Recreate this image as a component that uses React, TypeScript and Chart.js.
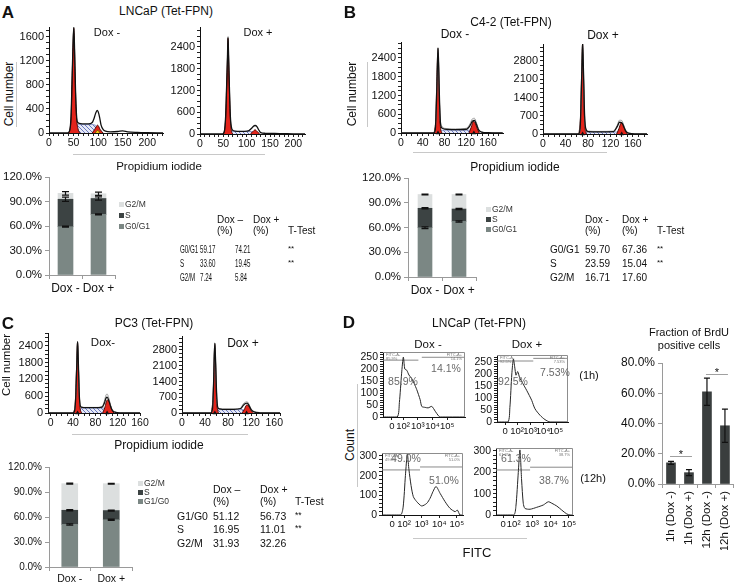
import React, { useEffect, useRef } from 'react';
import { Chart, registerables } from 'chart.js';

Chart.register(...registerables);
const FONT = '"Liberation Sans", Arial, Helvetica, sans-serif';
Chart.defaults.font.family = FONT;
Chart.defaults.color = '#111';

// ---------------- Panel A: LNCaP (Tet-FPN), PI histograms ----------------
const A_NEG_X = [0, 38, 42, 45, 47, 49, 50.5, 52, 54, 56, 58, 62, 70, 80, 88, 92, 95, 98, 100, 103, 106, 110, 115, 125, 140, 150, 160, 180, 200, 232];
const A_NEG_TOTAL = [0, 0, 40, 300, 900, 1500, 1760, 1400, 700, 300, 180, 160, 150, 150, 175, 250, 330, 375, 355, 260, 130, 60, 30, 20, 25, 35, 20, 10, 5, 0];
const A_NEG_G1_X = [38, 42, 45, 47, 49, 50.5, 52, 54, 56, 59, 63];
const A_NEG_G1_Y = [0, 40, 280, 880, 1480, 1740, 1380, 680, 260, 70, 0];
const A_NEG_S_X = [52, 56, 60, 88, 94, 100, 106, 110];
const A_NEG_S_Y = [0, 110, 140, 140, 130, 90, 30, 0];
const A_NEG_G2_X = [88, 93, 99, 104, 110];
const A_NEG_G2_Y = [0, 60, 130, 60, 0];
const A_NEG_AP_X = [94, 99, 104];
const A_NEG_AP_Y = [0, 45, 0];

const A_POS_X = [0, 48, 52, 55, 57, 59, 60, 61, 63, 65, 68, 72, 80, 95, 105, 110, 114, 118, 122, 126, 130, 140, 160, 180, 200, 225];
const A_POS_TOTAL = [0, 0, 60, 500, 1300, 2200, 2675, 2300, 1300, 500, 150, 90, 75, 75, 95, 150, 210, 235, 205, 110, 40, 20, 15, 10, 5, 0];
const A_POS_G1_X = [50, 53, 55, 57, 59, 60, 61, 63, 65, 67, 70];
const A_POS_G1_Y = [0, 150, 480, 1280, 2150, 2640, 2250, 1250, 450, 120, 0];
const A_POS_S_X = [62, 66, 72, 105, 112, 120, 124];
const A_POS_S_Y = [0, 60, 70, 70, 65, 20, 0];
const A_POS_G2_X = [108, 113, 118, 123, 128];
const A_POS_G2_Y = [0, 60, 115, 60, 0];

// ---------------- Panel B: C4-2 (Tet-FPN) ----------------
const B_NEG_X = [0, 60, 63, 65, 67, 68, 69, 71, 73, 76, 80, 100, 120, 127, 131, 135, 139, 143, 148, 160, 187];
const B_NEG_TOTAL = [0, 0, 100, 900, 2200, 2720, 2300, 900, 250, 150, 125, 110, 120, 240, 370, 400, 260, 90, 30, 10, 0];
const B_NEG_FIT = [0, 0, 100, 900, 2200, 2720, 2300, 900, 300, 200, 150, 130, 150, 300, 450, 470, 310, 110, 40, 10, 0];
const B_NEG_G1_X = [61, 64, 66, 68, 70, 72, 75];
const B_NEG_G1_Y = [0, 500, 1800, 2700, 1500, 300, 0];
const B_NEG_S_X = [70, 74, 80, 126, 132, 138];
const B_NEG_S_Y = [0, 80, 90, 90, 40, 0];
const B_NEG_G2_X = [125, 129, 133, 136, 140, 144];
const B_NEG_G2_Y = [0, 180, 370, 330, 150, 0];
const B_NEG_MARK_X = [68, 134];

const B_POS_X = [0, 63, 66, 68, 70, 70.5, 72, 74, 77, 80, 100, 125, 132, 136, 140, 144, 148, 154, 165, 185];
const B_POS_TOTAL = [0, 0, 200, 1500, 3200, 3490, 2400, 700, 150, 90, 80, 90, 280, 450, 440, 260, 90, 20, 5, 0];
const B_POS_FIT = [0, 0, 200, 1500, 3200, 3490, 2400, 700, 170, 110, 100, 110, 340, 530, 520, 310, 110, 30, 5, 0];
const B_POS_G1_X = [64, 67, 69, 70.5, 72, 74, 77];
const B_POS_G1_Y = [0, 800, 2600, 3450, 2200, 500, 0];
const B_POS_S_X = [72, 76, 80, 130, 138, 142];
const B_POS_S_Y = [0, 70, 80, 80, 30, 0];
const B_POS_G2_X = [131, 135, 139, 142, 146, 150];
const B_POS_G2_Y = [0, 200, 420, 400, 150, 0];
const B_POS_MARK_X = [70.5, 140];

// ---------------- Panel C: PC3 (Tet-FPN) ----------------
const C_NEG_X = [-5, 40, 43, 45, 47, 48, 49, 51, 53, 56, 60, 80, 92, 96, 99, 101, 104, 107, 110, 115, 125, 160];
const C_NEG_TOTAL = [0, 0, 100, 700, 2000, 2555, 2100, 700, 250, 200, 190, 190, 210, 350, 530, 570, 450, 250, 100, 30, 5, 0];
const C_NEG_FIT = [0, 0, 100, 700, 2000, 2555, 2100, 700, 260, 210, 200, 200, 230, 420, 640, 680, 540, 300, 120, 40, 5, 0];
const C_NEG_G1_X = [41, 44, 46, 48, 50, 52, 55];
const C_NEG_G1_Y = [0, 400, 1500, 2520, 1400, 300, 0];
const C_NEG_S_X = [50, 54, 58, 94, 100, 106, 110];
const C_NEG_S_Y = [0, 150, 180, 180, 150, 60, 0];
const C_NEG_G2_X = [93, 97, 101, 105, 109, 113];
const C_NEG_G2_Y = [0, 200, 460, 400, 150, 0];
const C_NEG_MARK_X = [48, 101];

const C_POS_X = [0, 50, 53, 55, 56, 57, 58, 60, 62, 65, 70, 90, 102, 106, 110, 113, 116, 120, 125, 135, 170];
const C_POS_TOTAL = [0, 0, 200, 1500, 2600, 3100, 2500, 900, 250, 180, 165, 165, 200, 330, 420, 440, 340, 150, 50, 10, 0];
const C_POS_FIT = [0, 0, 200, 1500, 2600, 3100, 2500, 900, 260, 190, 175, 175, 220, 400, 480, 500, 400, 180, 60, 10, 0];
const C_POS_G1_X = [51, 54, 56, 57, 58, 60, 63];
const C_POS_G1_Y = [0, 800, 2500, 3050, 2400, 600, 0];
const C_POS_S_X = [59, 62, 66, 104, 110, 117, 121];
const C_POS_S_Y = [0, 120, 150, 150, 120, 40, 0];
const C_POS_G2_X = [104, 108, 112, 116, 120, 124];
const C_POS_G2_Y = [0, 150, 350, 300, 100, 0];
const C_POS_MARK_X = [57, 112];

// ---------------- Stacked cell-cycle fractions (%) ----------------
const STACK_CATS = ['Dox -', 'Dox +'];
const A_G0G1 = [59.17, 74.21];
const A_S = [33.6, 19.45];
const A_G2M = [7.24, 5.84];
const A_G0G1_ERR = [0.6, 0.6];
const A_S_ERR = [2.5, 2.0];
const A_G2M_ERR = [2.2, 2.0];
const A_TTEST = ['**', '**', ''];

const B_G0G1 = [59.7, 67.36];
const B_S = [23.59, 15.04];
const B_G2M = [16.71, 17.6];
const B_G0G1_ERR = [1.0, 0.8];
const B_S_ERR = [0.8, 0.8];
const B_G2M_ERR = [0.6, 0.6];
const B_TTEST = ['**', '**', ''];

const C_G1G0 = [51.12, 56.73];
const C_S = [16.95, 11.01];
const C_G2M = [31.93, 32.26];
const C_G1G0_ERR = [0.8, 0.8];
const C_S_ERR = [0.8, 0.6];
const C_G2M_ERR = [0.6, 0.5];
const C_TTEST = ['**', '**', ''];

// ---------------- Panel D: BrdU / FITC histograms ----------------
const D_TICK_LABELS = ['0', '10\u00B2', '10\u00B3', '10\u2074', '10\u2075'];
const D1_TICKS = [1.25, 2, 3, 4, 5];
const D1_T = [0.64, 1.6, 1.75, 1.9, 2.02, 2.12, 2.25, 2.4, 2.59, 2.75, 2.93, 3.16, 3.27, 3.5, 3.7, 3.95, 4.18, 4.4, 4.52, 6.2];
const D1_Y = [0, 0, 60, 180, 250, 200, 195, 175, 160, 140, 114, 72, 44, 40, 38, 44, 24, 5, 0, 0];
const D1_GATE_L = [0.64, 3.04]; const D1_GATE_L_Y = [237, 237];
const D1_GATE_R = [3.27, 6.2]; const D1_GATE_R_Y = [249, 249];

const D2_TICKS = [1.08, 2, 3, 4, 5];
const D2_T = [0.46, 1.3, 1.45, 1.6, 1.72, 1.82, 1.92, 2.05, 2.2, 2.45, 2.74, 2.95, 3.13, 3.38, 3.77, 4.15, 4.54, 5.92];
const D2_Y = [0, 0, 60, 200, 262, 230, 195, 210, 185, 160, 132, 110, 90, 55, 28, 10, 0, 0];
const D2_GATE_L = [0.46, 3.25]; const D2_GATE_L_Y = [254, 254];
const D2_GATE_R = [3.25, 5.92]; const D2_GATE_R_Y = [265, 265];

const D3_TICKS = [1.32, 2, 3, 4, 5];
const D3_T = [0.75, 1.8, 1.95, 2.08, 2.19, 2.28, 2.4, 2.53, 2.72, 3.0, 3.29, 3.48, 3.65, 3.82, 4.05, 4.33, 4.61, 4.9, 5.03, 5.18, 5.35];
const D3_Y = [0, 0, 40, 200, 310, 230, 150, 93, 68, 46, 59, 85, 120, 145, 110, 68, 34, 17, 25, 0, 0];
const D3_GATE_L = [0.75, 2.91]; const D3_GATE_L_Y = [229, 229];
const D3_GATE_R = [2.91, 5.35]; const D3_GATE_R_Y = [244, 244];

const D4_TICKS = [1.43, 2, 3, 4, 5];
const D4_T = [1.04, 2.0, 2.12, 2.25, 2.34, 2.43, 2.52, 2.61, 2.89, 3.25, 3.61, 3.88, 4.07, 4.34, 4.61, 4.88, 5.06, 5.22];
const D4_Y = [0, 0, 40, 200, 305, 164, 55, 31, 27, 36, 47, 62, 55, 42, 23, 5, 0, 0];
const D4_GATE_L = [1.04, 2.89]; const D4_GATE_L_Y = [211, 211];
const D4_GATE_R = [2.89, 5.22]; const D4_GATE_R_Y = [224, 224];

const D_PCT = ['85.9%', '14.1%', '92.5%', '7.53%', '49.0%', '51.0%', '61.3%', '38.7%'];

const BRDU_CATS = ['1h (Dox -)', '1h (Dox +)', '12h (Dox -)', '12h (Dox +)'];
const BRDU_VALUES = [14.0, 7.5, 61.0, 38.5];
const BRDU_ERRORS = [1.0, 2.0, 9.0, 11.0];
const BRDU_SIG = [[0, 1, 18.5], [2, 3, 72.5]];

// ---------------- colours ----------------
const COL_G1 = '#7b8784';
const COL_S = '#3c4343';
const COL_G2 = '#dcdfdf';

// ---------------- plugins ----------------
const framePlugin = {
  id: 'frame',
  afterDatasetsDraw(chart: any, _a: any, opts: any) {
    const { left, right, top, bottom } = chart.chartArea;
    const ctx = chart.ctx;
    ctx.save();
    ctx.strokeStyle = opts.color || '#888';
    ctx.lineWidth = 1;
    ctx.beginPath();
    ctx.moveTo(left, top + 0.5);
    ctx.lineTo(right - 0.5, top + 0.5);
    ctx.lineTo(right - 0.5, bottom);
    ctx.stroke();
    ctx.restore();
  },
};

const errorBarsPlugin = {
  id: 'errorBars',
  afterDatasetsDraw(chart: any, _a: any, opts: any) {
    const ctx = chart.ctx;
    const ys = chart.scales.y;
    const cap = opts.cap || 6;
    chart.data.datasets.forEach((ds: any, d: number) => {
      if (!ds.errors) return;
      const meta = chart.getDatasetMeta(d);
      meta.data.forEach((el: any, i: number) => {
        const e = Math.abs(ys.getPixelForValue(ds.errors[i]) - ys.getPixelForValue(0));
        const x = el.x, y = el.y;
        ctx.save();
        ctx.strokeStyle = '#111';
        ctx.lineWidth = 1.2;
        ctx.beginPath();
        ctx.moveTo(x, y - e); ctx.lineTo(x, y + e);
        ctx.moveTo(x - cap / 2, y - e); ctx.lineTo(x + cap / 2, y - e);
        ctx.moveTo(x - cap / 2, y + e); ctx.lineTo(x + cap / 2, y + e);
        ctx.stroke();
        ctx.restore();
      });
    });
  },
};

const sigPlugin = {
  id: 'sig',
  afterDatasetsDraw(chart: any, _a: any, opts: any) {
    const ctx = chart.ctx;
    const xs = chart.scales.x, ys = chart.scales.y;
    (opts.pairs || []).forEach((p: number[]) => {
      const xa = xs.getPixelForValue(p[0]) - 1, xb = xs.getPixelForValue(p[1]) + 3;
      const yy = Math.round(ys.getPixelForValue(p[2])) + 0.5;
      ctx.save();
      ctx.strokeStyle = '#a0a0a0';
      ctx.lineWidth = 1;
      ctx.beginPath(); ctx.moveTo(xa, yy); ctx.lineTo(xb, yy); ctx.stroke();
      ctx.fillStyle = '#111';
      ctx.font = `11px ${FONT}`;
      ctx.textAlign = 'center';
      ctx.fillText('*', (xa + xb) / 2, yy + 1);
      ctx.restore();
    });
  },
};

function hatchPattern() {
  const c = document.createElement('canvas');
  c.width = 4; c.height = 4;
  const g = c.getContext('2d')!;
  g.fillStyle = '#e6e9f6';
  g.fillRect(0, 0, 4, 4);
  g.strokeStyle = '#5a6bbb';
  g.lineWidth = 0.9;
  g.beginPath(); g.moveTo(0, 0); g.lineTo(4, 4); g.stroke();
  return g.createPattern(c, 'repeat');
}

type Layer = { kind: string; xs: number[]; ys?: number[] };

function layerDataset(l: Layer) {
  const data = l.xs.map((x, i) => ({ x, y: l.ys ? l.ys[i] : 0 }));
  const common: any = { data, pointRadius: 0, borderWidth: 1, tension: 0.3, cubicInterpolationMode: 'monotone' };
  switch (l.kind) {
    case 'total': return { ...common, borderColor: '#111', borderWidth: 1.3, fill: false };
    case 'fit': return { ...common, borderColor: '#9d9d9d', borderWidth: 1, fill: false };
    case 'red': return { ...common, borderColor: '#4d0a06', backgroundColor: '#e3241b', fill: 'origin' };
    case 'yellow': return { ...common, borderColor: '#6d5d00', backgroundColor: '#f2c418', fill: 'origin' };
    case 'hatch': return { ...common, borderColor: '#6474b8', backgroundColor: hatchPattern(), fill: 'origin', borderWidth: 0.7 };
    case 'curve': return { ...common, borderColor: '#262626', borderWidth: 1, fill: false, cubicInterpolationMode: 'default', tension: 0.25 };
    case 'gate': return { ...common, borderColor: '#8a8a8a', borderWidth: 1, fill: false, tension: 0 };
    case 'marker':
    default:
      return { data, showLine: false, pointRadius: 2.6, pointStyle: 'triangle', pointBackgroundColor: '#111', pointBorderWidth: 0, clip: false };
  }
}

const isMult = (v: number, m: number) => Math.abs(v / m - Math.round(v / m)) < 1e-6;

// tick positions every `step` inside [min, max]
function stepTicks(min: number, max: number, step: number) {
  const out: { value: number }[] = [];
  for (let k = Math.ceil(min / step - 1e-9); k * step <= max + 1e-9; k++) out.push({ value: k * step });
  return out;
}

type HistSpec = {
  xMin: number; xMax: number; xStep?: number; xEvery?: number; xTicks?: number[]; xLabels?: string[];
  yMax: number; yStep: number; yEvery: number; layers: Layer[]; frame?: boolean; xFont?: number; yFont?: number;
};

function histConfig(h: HistSpec) {
  const xTicks: any = {
    autoSkip: false, maxRotation: 0, minRotation: 0, padding: 1, font: { size: h.xFont || 10.5 }, color: '#111',
  };
  const xScale: any = {
    type: 'linear', min: h.xMin, max: h.xMax,
    grid: { drawOnChartArea: false, drawTicks: true, tickLength: 3, color: '#222' },
    border: { color: '#111', width: 1 },
  };
  if (h.xTicks) {
    xScale.afterBuildTicks = (s: any) => { s.ticks = h.xTicks!.map((v) => ({ value: v })); };
    xTicks.callback = (_v: any, i: number) => h.xLabels![i];
  } else {
    xScale.afterBuildTicks = (s: any) => { s.ticks = stepTicks(h.xMin, h.xMax, h.xStep!); };
    xTicks.callback = (v: number) => (isMult(v, h.xEvery!) ? String(Math.round(v)) : '');
  }
  xScale.ticks = xTicks;
  return {
    type: 'line',
    data: { datasets: h.layers.map(layerDataset) },
    options: {
      animation: false, responsive: false, devicePixelRatio: 1, events: [],
      plugins: { legend: { display: false }, tooltip: { enabled: false }, frame: h.frame ? { color: '#8d8d8d' } : false },
      scales: {
        x: xScale,
        y: {
          type: 'linear', min: 0, max: h.yMax,
          afterBuildTicks: (s: any) => { s.ticks = stepTicks(0, h.yMax, h.yStep); },
          ticks: {
            autoSkip: false, padding: 2, font: { size: h.yFont || 11 }, color: '#111',
            callback: (v: number) => (isMult(v, h.yEvery) ? String(Math.round(v)) : ''),
          },
          grid: { drawOnChartArea: false, drawTicks: true, tickLength: 3, color: '#222' },
          border: { color: '#111', width: 1 },
        },
      },
    },
    plugins: [framePlugin],
  };
}

function stackConfig(series: { label: string; data: number[]; errors: number[]; color: string }[], thickness: number, font: number) {
  return {
    type: 'bar',
    data: {
      labels: STACK_CATS,
      datasets: series.map((s) => ({
        label: s.label, data: s.data, errors: s.errors, backgroundColor: s.color, borderWidth: 0, barThickness: thickness,
      })),
    },
    options: {
      animation: false, responsive: false, devicePixelRatio: 1, events: [],
      plugins: { legend: { display: false }, tooltip: { enabled: false }, errorBars: { cap: 7 } },
      scales: {
        x: {
          stacked: true,
          ticks: { font: { size: font + 0.5 }, color: '#111', padding: 2, maxRotation: 0, minRotation: 0, autoSkip: false },
          grid: { drawOnChartArea: false, drawTicks: true, tickLength: 4, color: '#9a9a9a' },
          border: { color: '#9a9a9a' },
        },
        y: {
          stacked: true, min: 0, max: 120,
          ticks: { stepSize: 30, font: { size: font }, color: '#111', padding: 3, callback: (v: number) => v.toFixed(1) + '%' },
          grid: { drawOnChartArea: false, drawTicks: true, tickLength: 4, color: '#9a9a9a' },
          border: { color: '#9a9a9a' },
        },
      },
    },
    plugins: [errorBarsPlugin],
  };
}

function brduConfig() {
  return {
    type: 'bar',
    data: {
      labels: BRDU_CATS,
      datasets: [{ label: 'BrdU+', data: BRDU_VALUES, errors: BRDU_ERRORS, backgroundColor: '#3a3e3e', borderWidth: 0, barThickness: 9 }],
    },
    options: {
      animation: false, responsive: false, devicePixelRatio: 1, events: [],
      plugins: { legend: { display: false }, tooltip: { enabled: false }, errorBars: { cap: 6 }, sig: { pairs: BRDU_SIG } },
      scales: {
        x: {
          ticks: { font: { size: 11.5 }, color: '#111', padding: 3, minRotation: 90, maxRotation: 90, autoSkip: false },
          grid: { drawOnChartArea: false, drawTicks: true, tickLength: 4, color: '#9a9a9a' },
          border: { color: '#9a9a9a' },
        },
        y: {
          min: 0, max: 80,
          ticks: { stepSize: 20, font: { size: 12 }, color: '#111', padding: 3, callback: (v: number) => v.toFixed(1) + '%' },
          grid: { drawOnChartArea: false, drawTicks: true, tickLength: 4, color: '#9a9a9a' },
          border: { color: '#9a9a9a' },
        },
      },
    },
    plugins: [errorBarsPlugin, sigPlugin],
  };
}

type Rect = { x0: number; x1: number; yTop: number; y0: number };

function ChartBox({ rect, yW, xH, padT = 12, padR = 10, make }: { rect: Rect; yW: number; xH: number; padT?: number; padR?: number; make: () => any }) {
  const ref = useRef<HTMLCanvasElement>(null);
  const left = rect.x0 - yW;
  const top = rect.yTop - padT;
  const width = Math.round(rect.x1 + padR - left);
  const height = Math.round(rect.y0 + xH - top);
  useEffect(() => {
    const cfg = make();
    cfg.options.layout = { padding: { top: padT, right: padR, left: 0, bottom: 0 } };
    cfg.options.scales.x.afterFit = (s: any) => { s.height = xH; };
    cfg.options.scales.y.afterFit = (s: any) => { s.width = yW; };
    const chart = new Chart(ref.current as HTMLCanvasElement, cfg);
    return () => chart.destroy();
  }, []);
  return <canvas ref={ref} width={width} height={height} style={{ position: 'absolute', left, top, width, height }} />;
}

function Txt({ x, y, s = 11, a = 'c', rot = 0, sx = 1, w = 400, c = '#111', children }: any) {
  const tx = a === 'c' ? '-50%' : a === 'r' ? '-100%' : '0';
  return (
    <div style={{
      position: 'absolute', left: x, top: y, fontSize: s, fontWeight: w, color: c, whiteSpace: 'nowrap', lineHeight: 1,
      transform: `translate(${tx},-50%) rotate(${rot}deg) scaleX(${sx})`, transformOrigin: a === 'l' ? 'left center' : 'center',
      pointerEvents: 'none',
    }}>{children}</div>
  );
}

function HLine({ x1, x2, y, c = '#c8c8c8' }: any) {
  return <div style={{ position: 'absolute', left: x1, top: y, width: x2 - x1, height: 1, background: c }} />;
}
function VLine({ x, y1, y2, c = '#c8c8c8' }: any) {
  return <div style={{ position: 'absolute', left: x, top: y1, width: 1, height: y2 - y1, background: c }} />;
}

function Legend({ x, ys, labels, colors, s = 8.5 }: any) {
  return (
    <>
      {labels.map((l: string, i: number) => (
        <React.Fragment key={l}>
          <div style={{ position: 'absolute', left: x, top: ys[i] - 2.5, width: 5, height: 5, background: colors[i] }} />
          <Txt x={x + 6} y={ys[i]} s={s} a="l" c="#333">{l}</Txt>
        </React.Fragment>
      ))}
    </>
  );
}

function Table({ rowX, negX, posX, tX, hNegX, hPosX, hY1, hY2, rowYs, rows, neg, pos, tt, negHead, s = 10, sx = 1 }: any) {
  return (
    <>
      <Txt x={hNegX} y={hY1} s={s} a="l">{negHead}</Txt>
      <Txt x={hNegX} y={hY2} s={s} a="l">(%)</Txt>
      <Txt x={hPosX} y={hY1} s={s} a="l">Dox +</Txt>
      <Txt x={hPosX} y={hY2} s={s} a="l">(%)</Txt>
      <Txt x={tX} y={hY2} s={s} a="l">T-Test</Txt>
      {rows.map((r: string, i: number) => (
        <React.Fragment key={r}>
          <Txt x={rowX} y={rowYs[i]} s={s} a="l" sx={sx}>{r}</Txt>
          <Txt x={negX} y={rowYs[i]} s={s} a="l" sx={sx}>{neg[i].toFixed(2)}</Txt>
          <Txt x={posX} y={rowYs[i]} s={s} a="l" sx={sx}>{pos[i].toFixed(2)}</Txt>
          <Txt x={tX} y={rowYs[i] - 1} s={s - 2} a="l">{tt[i]}</Txt>
        </React.Fragment>
      ))}
    </>
  );
}

function DCorner({ x1, x2, y, l1, l2 }: any) {
  return (
    <>
      <Txt x={x1} y={y} s={4} a="l" c="#777">FITC-A-</Txt>
      <Txt x={x1} y={y + 4} s={4} a="l" c="#777">{l1}</Txt>
      <Txt x={x2} y={y} s={4} a="r" c="#777">FITC-A+</Txt>
      <Txt x={x2} y={y + 4} s={4} a="r" c="#777">{l2}</Txt>
    </>
  );
}

const ORDER_AB = ['G2/M', 'S', 'G0/G1'];
const ORDER_C = ['G2/M', 'S', 'G1/G0'];
const LEG_COLORS = [COL_G2, COL_S, COL_G1];

export default function App() {
  return (
    <div style={{ position: 'fixed', left: 0, top: 0, width: 741, height: 582, background: '#fff', overflow: 'hidden', fontFamily: FONT, color: '#111' }}>
      {/* ---------- Panel A ---------- */}
      <Txt x={8} y={12} s={17} w={700}>A</Txt>
      <Txt x={166} y={11} s={12}>LNCaP (Tet-FPN)</Txt>
      <Txt x={9} y={94} s={12} rot={-90}>Cell number</Txt>
      <VLine x={16} y1={62} y2={127} />
      <ChartBox rect={{ x0: 49, x1: 163, yTop: 27, y0: 133 }} yW={34} xH={18} make={() => histConfig({
        xMin: 0, xMax: 232, xStep: 10, xEvery: 50, yMax: 1760, yStep: 100, yEvery: 400,
        layers: [
          { kind: 'total', xs: A_NEG_X, ys: A_NEG_TOTAL },
          { kind: 'yellow', xs: A_NEG_AP_X, ys: A_NEG_AP_Y },
          { kind: 'red', xs: A_NEG_G1_X, ys: A_NEG_G1_Y },
          { kind: 'red', xs: A_NEG_G2_X, ys: A_NEG_G2_Y },
          { kind: 'hatch', xs: A_NEG_S_X, ys: A_NEG_S_Y },
        ],
      })} />
      <Txt x={107} y={32} s={11}>Dox -</Txt>
      <ChartBox rect={{ x0: 200, x1: 305, yTop: 27, y0: 134 }} yW={34} xH={18} make={() => histConfig({
        xMin: 0, xMax: 225, xStep: 10, xEvery: 50, yMax: 2950, yStep: 150, yEvery: 600,
        layers: [
          { kind: 'total', xs: A_POS_X, ys: A_POS_TOTAL },
          { kind: 'red', xs: A_POS_G1_X, ys: A_POS_G1_Y },
          { kind: 'red', xs: A_POS_G2_X, ys: A_POS_G2_Y },
          { kind: 'hatch', xs: A_POS_S_X, ys: A_POS_S_Y },
        ],
      })} />
      <Txt x={258} y={32} s={11}>Dox +</Txt>
      <HLine x1={73} x2={265} y={154} />
      <Txt x={159} y={167} s={11.5}>Propidium iodide</Txt>

      <ChartBox rect={{ x0: 49, x1: 115, yTop: 177, y0: 275 }} yW={48} xH={18} make={() => stackConfig([
        { label: 'G0/G1', data: A_G0G1, errors: A_G0G1_ERR, color: COL_G1 },
        { label: 'S', data: A_S, errors: A_S_ERR, color: COL_S },
        { label: 'G2/M', data: A_G2M, errors: A_G2M_ERR, color: COL_G2 },
      ], 15, 11.5)} />
      <Legend x={119} ys={[204, 215, 226]} labels={ORDER_AB} colors={LEG_COLORS} />
      <Table rowX={180} negX={200} posX={235} tX={288} hNegX={217} hPosX={253} hY1={220} hY2={231} rowYs={[250, 264, 278]}
        rows={['G0/G1', 'S', 'G2/M']} neg={[A_G0G1[0], A_S[0], A_G2M[0]]} pos={[A_G0G1[1], A_S[1], A_G2M[1]]} tt={A_TTEST} negHead="Dox –" s={10} sx={0.62} />

      {/* ---------- Panel B ---------- */}
      <Txt x={350} y={12} s={17} w={700}>B</Txt>
      <Txt x={511} y={22} s={12}>C4-2 (Tet-FPN)</Txt>
      <Txt x={352} y={94} s={12} rot={-90}>Cell number</Txt>
      <VLine x={367} y1={62} y2={127} />
      <ChartBox rect={{ x0: 401, x1: 503, yTop: 42, y0: 133 }} yW={34} xH={18} make={() => histConfig({
        xMin: 0, xMax: 187.5, xStep: 10, xEvery: 40, yMax: 2910, yStep: 150, yEvery: 600,
        layers: [
          { kind: 'marker', xs: B_NEG_MARK_X },
          { kind: 'total', xs: B_NEG_X, ys: B_NEG_TOTAL },
          { kind: 'fit', xs: B_NEG_X, ys: B_NEG_FIT },
          { kind: 'red', xs: B_NEG_G1_X, ys: B_NEG_G1_Y },
          { kind: 'red', xs: B_NEG_G2_X, ys: B_NEG_G2_Y },
          { kind: 'hatch', xs: B_NEG_S_X, ys: B_NEG_S_Y },
        ],
      })} />
      <Txt x={455} y={34} s={12}>Dox -</Txt>
      <ChartBox rect={{ x0: 543, x1: 647, yTop: 44, y0: 134 }} yW={34} xH={18} make={() => histConfig({
        xMin: 0, xMax: 185, xStep: 10, xEvery: 40, yMax: 3450, yStep: 175, yEvery: 700,
        layers: [
          { kind: 'marker', xs: B_POS_MARK_X },
          { kind: 'total', xs: B_POS_X, ys: B_POS_TOTAL },
          { kind: 'fit', xs: B_POS_X, ys: B_POS_FIT },
          { kind: 'red', xs: B_POS_G1_X, ys: B_POS_G1_Y },
          { kind: 'red', xs: B_POS_G2_X, ys: B_POS_G2_Y },
          { kind: 'hatch', xs: B_POS_S_X, ys: B_POS_S_Y },
        ],
      })} />
      <Txt x={603} y={35} s={12}>Dox +</Txt>
      <HLine x1={413} x2={607} y={152} />
      <Txt x={515} y={167} s={12}>Propidium iodide</Txt>

      <ChartBox rect={{ x0: 408, x1: 476, yTop: 178, y0: 277 }} yW={48} xH={18} make={() => stackConfig([
        { label: 'G0/G1', data: B_G0G1, errors: B_G0G1_ERR, color: COL_G1 },
        { label: 'S', data: B_S, errors: B_S_ERR, color: COL_S },
        { label: 'G2/M', data: B_G2M, errors: B_G2M_ERR, color: COL_G2 },
      ], 14, 11.5)} />
      <Legend x={486} ys={[209, 219, 229]} labels={ORDER_AB} colors={LEG_COLORS} />
      <Table rowX={550} negX={585} posX={622} tX={657} hNegX={585} hPosX={622} hY1={220} hY2={231} rowYs={[250, 264, 278]}
        rows={['G0/G1', 'S', 'G2/M']} neg={[B_G0G1[0], B_S[0], B_G2M[0]]} pos={[B_G0G1[1], B_S[1], B_G2M[1]]} tt={B_TTEST} negHead="Dox -" s={10} />

      {/* ---------- Panel C ---------- */}
      <Txt x={8} y={323} s={17} w={700}>C</Txt>
      <Txt x={154} y={323} s={12}>PC3 (Tet-FPN)</Txt>
      <Txt x={7} y={365} s={11.5} rot={-90}>Cell number</Txt>
      <ChartBox rect={{ x0: 48, x1: 140, yTop: 333, y0: 413 }} yW={34} xH={18} make={() => histConfig({
        xMin: -5, xMax: 160, xStep: 10, xEvery: 40, yMax: 2860, yStep: 150, yEvery: 600,
        layers: [
          { kind: 'marker', xs: C_NEG_MARK_X },
          { kind: 'total', xs: C_NEG_X, ys: C_NEG_TOTAL },
          { kind: 'fit', xs: C_NEG_X, ys: C_NEG_FIT },
          { kind: 'red', xs: C_NEG_G1_X, ys: C_NEG_G1_Y },
          { kind: 'red', xs: C_NEG_G2_X, ys: C_NEG_G2_Y },
          { kind: 'hatch', xs: C_NEG_S_X, ys: C_NEG_S_Y },
        ],
      })} />
      <Txt x={103} y={343} s={11.5}>Dox-</Txt>
      <ChartBox rect={{ x0: 182, x1: 280, yTop: 336, y0: 413 }} yW={34} xH={18} make={() => histConfig({
        xMin: 0, xMax: 170, xStep: 10, xEvery: 40, yMax: 3420, yStep: 175, yEvery: 700,
        layers: [
          { kind: 'marker', xs: C_POS_MARK_X },
          { kind: 'total', xs: C_POS_X, ys: C_POS_TOTAL },
          { kind: 'fit', xs: C_POS_X, ys: C_POS_FIT },
          { kind: 'red', xs: C_POS_G1_X, ys: C_POS_G1_Y },
          { kind: 'red', xs: C_POS_G2_X, ys: C_POS_G2_Y },
          { kind: 'hatch', xs: C_POS_S_X, ys: C_POS_S_Y },
        ],
      })} />
      <Txt x={243} y={343} s={12}>Dox +</Txt>
      <HLine x1={72} x2={248} y={434} />
      <Txt x={159} y={445} s={12}>Propidium iodide</Txt>

      <ChartBox rect={{ x0: 49, x1: 132, yTop: 467, y0: 567 }} yW={48} xH={18} make={() => stackConfig([
        { label: 'G1/G0', data: C_G1G0, errors: C_G1G0_ERR, color: COL_G1 },
        { label: 'S', data: C_S, errors: C_S_ERR, color: COL_S },
        { label: 'G2/M', data: C_G2M, errors: C_G2M_ERR, color: COL_G2 },
      ], 16, 10)} />
      <Legend x={138} ys={[483, 492, 501]} labels={ORDER_C} colors={LEG_COLORS} s={8.5} />
      <Table rowX={177} negX={213} posX={260} tX={295} hNegX={213} hPosX={260} hY1={489} hY2={501} rowYs={[516, 529, 543]}
        rows={['G1/G0', 'S', 'G2/M']} neg={[C_G1G0[0], C_S[0], C_G2M[0]]} pos={[C_G1G0[1], C_S[1], C_G2M[1]]} tt={C_TTEST} negHead="Dox –" s={10.5} />

      {/* ---------- Panel D ---------- */}
      <Txt x={349} y={322} s={17} w={700}>D</Txt>
      <Txt x={479} y={323} s={12}>LNCaP (Tet-FPN)</Txt>
      <Txt x={350} y={445} s={12} rot={-90}>Count</Txt>
      <VLine x={357} y1={384} y2={487} />
      <Txt x={428} y={345} s={11.5}>Dox -</Txt>
      <Txt x={527} y={345} s={11.5}>Dox +</Txt>

      <ChartBox rect={{ x0: 383, x1: 465, yTop: 352, y0: 417 }} yW={26} xH={16} make={() => histConfig({
        xMin: 0.64, xMax: 6.2, xTicks: D1_TICKS, xLabels: D_TICK_LABELS, yMax: 271, yStep: 10, yEvery: 50, frame: true, xFont: 9.5, yFont: 10.5,
        layers: [
          { kind: 'curve', xs: D1_T, ys: D1_Y },
          { kind: 'gate', xs: D1_GATE_L, ys: D1_GATE_L_Y },
          { kind: 'gate', xs: D1_GATE_R, ys: D1_GATE_R_Y },
        ],
      })} />
      <ChartBox rect={{ x0: 497, x1: 568, yTop: 355, y0: 422 }} yW={26} xH={16} make={() => histConfig({
        xMin: 0.46, xMax: 5.92, xTicks: D2_TICKS, xLabels: D_TICK_LABELS, yMax: 279, yStep: 10, yEvery: 50, frame: true, xFont: 9.5, yFont: 10.5,
        layers: [
          { kind: 'curve', xs: D2_T, ys: D2_Y },
          { kind: 'gate', xs: D2_GATE_L, ys: D2_GATE_L_Y },
          { kind: 'gate', xs: D2_GATE_R, ys: D2_GATE_R_Y },
        ],
      })} />
      <ChartBox rect={{ x0: 382, x1: 463, yTop: 453, y0: 515 }} yW={26} xH={16} make={() => histConfig({
        xMin: 0.75, xMax: 5.35, xTicks: D3_TICKS, xLabels: D_TICK_LABELS, yMax: 315, yStep: 20, yEvery: 100, frame: true, xFont: 9.5, yFont: 10.5,
        layers: [
          { kind: 'curve', xs: D3_T, ys: D3_Y },
          { kind: 'gate', xs: D3_GATE_L, ys: D3_GATE_L_Y },
          { kind: 'gate', xs: D3_GATE_R, ys: D3_GATE_R_Y },
        ],
      })} />
      <ChartBox rect={{ x0: 496, x1: 573, yTop: 448, y0: 515 }} yW={26} xH={16} make={() => histConfig({
        xMin: 1.04, xMax: 5.22, xTicks: D4_TICKS, xLabels: D_TICK_LABELS, yMax: 314, yStep: 20, yEvery: 100, frame: true, xFont: 9.5, yFont: 10.5,
        layers: [
          { kind: 'curve', xs: D4_T, ys: D4_Y },
          { kind: 'gate', xs: D4_GATE_L, ys: D4_GATE_L_Y },
          { kind: 'gate', xs: D4_GATE_R, ys: D4_GATE_R_Y },
        ],
      })} />
      <DCorner x1={386} x2={462} y={355} l1={D_PCT[0]} l2={D_PCT[1]} />
      <DCorner x1={500} x2={565} y={358} l1={D_PCT[2]} l2={D_PCT[3]} />
      <DCorner x1={385} x2={460} y={456} l1={D_PCT[4]} l2={D_PCT[5]} />
      <DCorner x1={499} x2={570} y={451} l1={D_PCT[6]} l2={D_PCT[7]} />
      <Txt x={403} y={381} s={10.5} c="#6a6a6a">{D_PCT[0]}</Txt>
      <Txt x={446} y={368} s={10.5} c="#6a6a6a">{D_PCT[1]}</Txt>
      <Txt x={513} y={381} s={10.5} c="#6a6a6a">{D_PCT[2]}</Txt>
      <Txt x={555} y={372} s={10.5} c="#6a6a6a">{D_PCT[3]}</Txt>
      <Txt x={406} y={458} s={10.5} c="#6a6a6a">{D_PCT[4]}</Txt>
      <Txt x={444} y={480} s={10.5} c="#6a6a6a">{D_PCT[5]}</Txt>
      <Txt x={516} y={458} s={10.5} c="#6a6a6a">{D_PCT[6]}</Txt>
      <Txt x={554} y={480} s={10.5} c="#6a6a6a">{D_PCT[7]}</Txt>
      <Txt x={589} y={375} s={11}>(1h)</Txt>
      <Txt x={593} y={478} s={11}>(12h)</Txt>
      <HLine x1={413} x2={527} y={538} />
      <Txt x={477} y={552} s={13}>FITC</Txt>

      <Txt x={689} y={332} s={11}>Fraction of BrdU</Txt>
      <Txt x={689} y={345} s={11}>positive cells</Txt>
      <ChartBox rect={{ x0: 662, x1: 740, yTop: 363, y0: 484 }} yW={46} xH={66} padR={2} make={brduConfig} />
    </div>
  );
}
